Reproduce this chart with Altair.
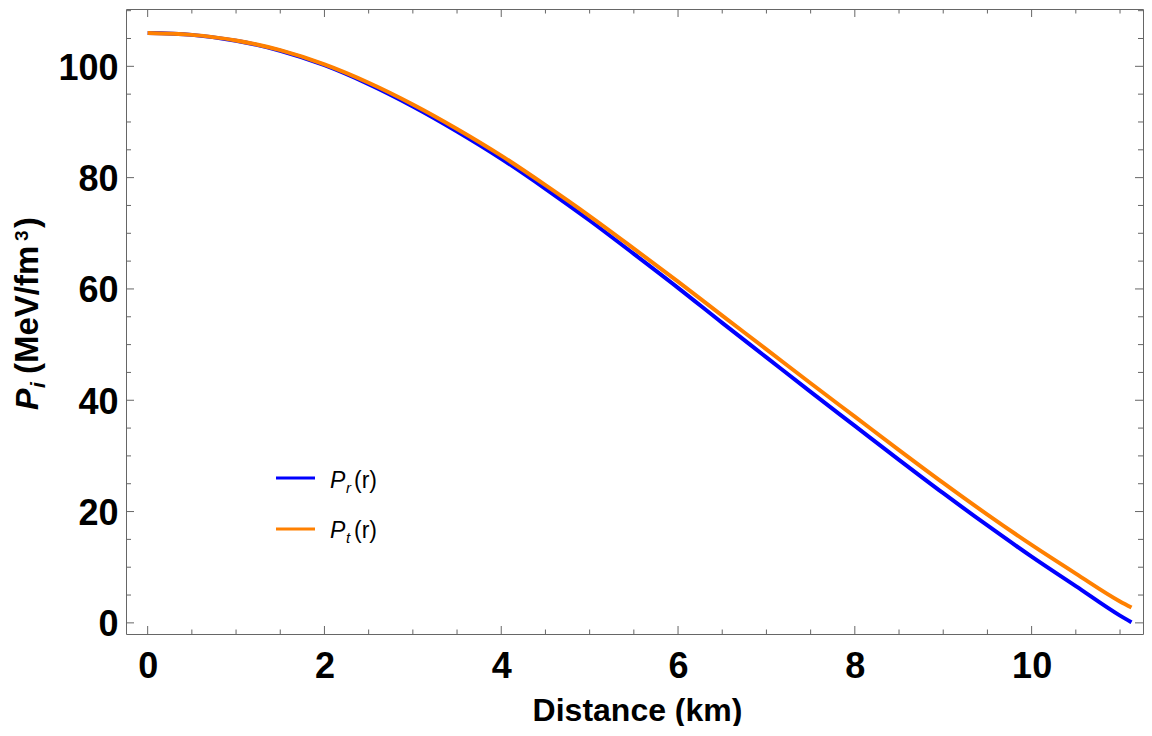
import altair as alt
import pandas as pd

# ---- data ----
r_km = [0, 0.5, 1, 1.5, 2, 2.5, 3, 3.5, 4, 4.5, 5, 5.5, 6, 6.5, 7, 7.5, 8, 8.5, 9, 9.5, 10, 10.5, 11, 11.13]
p_radial = [106.0, 105.65, 104.6, 102.8, 100.2, 96.8, 92.8, 88.3, 83.4, 78.0, 72.3, 66.3, 60.2, 53.9,
            47.7, 41.5, 35.4, 29.3, 23.3, 17.5, 11.9, 6.6, 1.3, 0.1]
p_tangential = [106.0, 105.65, 104.65, 102.9, 100.35, 97.05, 93.15, 88.75, 83.95, 78.65, 73.1, 67.25,
                61.3, 55.2, 49.15, 43.05, 37.05, 31.05, 25.15, 19.45, 14.0, 8.85, 3.85, 2.75]

x_major = [0, 2, 4, 6, 8, 10]
x_minor = [0.5, 1, 1.5, 2.5, 3, 3.5, 4.5, 5, 5.5, 6.5, 7, 7.5, 8.5, 9, 9.5, 10.5, 11]
y_major = [0, 20, 40, 60, 80, 100]
y_minor = [5, 10, 15, 25, 30, 35, 45, 50, 55, 65, 70, 75, 85, 90, 95, 105, 110]

legend_subs = ["r", "t"]
legend_colors = ["#0000FF", "#FF8000"]

FONT = "Liberation Sans"
GRAY = "#666666"
W, H = 1017, 625

xs = alt.Scale(domain=[-0.245, 11.26], nice=False, zero=False)
ys = alt.Scale(domain=[-2.0, 110.3], nice=False, zero=False)

df = pd.DataFrame({"r": r_km, "pr": p_radial, "pt": p_tangential})

x_axis = alt.Axis(values=x_major, format="d", ticks=False, tickSize=0, domain=False, grid=False,
                  labelFont=FONT, labelFontSize=36, labelFontWeight="bold", labelColor="black",
                  labelPadding=15, labelFlush=False, labelOverlap=False,
                  title="Distance (km)", titleFont=FONT, titleFontSize=32, titleFontWeight="bold",
                  titleColor="black", titleX=511, titleY=86, titleBaseline="alphabetic")
y_axis = alt.Axis(values=y_major, format="d", ticks=False, tickSize=0, domain=False, grid=False,
                  labelFont=FONT, labelFontSize=36, labelFontWeight="bold", labelColor="black",
                  labelPadding=8, labelOffset=2, labelFlush=False, labelOverlap=False, title=None)

line_r = alt.Chart(df).mark_line(color=legend_colors[0], strokeWidth=4, interpolate="monotone").encode(
    x=alt.X("r:Q", scale=xs, axis=x_axis), y=alt.Y("pr:Q", scale=ys, axis=y_axis))
line_t = alt.Chart(df).mark_line(color=legend_colors[1], strokeWidth=4, interpolate="monotone").encode(
    x=alt.X("r:Q", scale=xs, axis=x_axis), y=alt.Y("pt:Q", scale=ys, axis=y_axis))

def xticks(vals, length):
    d = pd.DataFrame({"v": vals})
    bot = alt.Chart(d).mark_rule(color=GRAY, strokeWidth=1).encode(
        x=alt.X("v:Q", scale=xs, axis=x_axis), y=alt.value(H), y2=alt.value(H - length))
    top = alt.Chart(d).mark_rule(color=GRAY, strokeWidth=1).encode(
        x=alt.X("v:Q", scale=xs, axis=x_axis), y=alt.value(0), y2=alt.value(length))
    return [bot, top]

def yticks(vals, length):
    d = pd.DataFrame({"v": vals})
    left = alt.Chart(d).mark_rule(color=GRAY, strokeWidth=1).encode(
        y=alt.Y("v:Q", scale=ys, axis=y_axis), x=alt.value(0), x2=alt.value(length))
    right = alt.Chart(d).mark_rule(color=GRAY, strokeWidth=1).encode(
        y=alt.Y("v:Q", scale=ys, axis=y_axis), x=alt.value(W), x2=alt.value(W - length))
    return [left, right]

ticks = xticks(x_major, 8) + xticks(x_minor, 4.5) + yticks(y_major, 8) + yticks(y_minor, 5)

def txt(s, x, y, size, italic=False, bold=False, angle=0):
    kw = dict(font=FONT, fontSize=size, color="black", align="left", baseline="alphabetic")
    if italic:
        kw["fontStyle"] = "italic"
    if bold:
        kw["fontWeight"] = "bold"
    if angle:
        kw["angle"] = angle
    return alt.Chart(pd.DataFrame({"t": [s]})).mark_text(**kw).encode(
        x=alt.value(x), y=alt.value(y), text="t:N")

# y-axis title  P_i (MeV/fm^3), rotated
ytitle = [
    txt("P", -88, 401, 32, italic=True, bold=True, angle=270),
    txt("i", -81, 379, 21, italic=True, bold=True, angle=270),
    txt("(MeV/fm", -88, 365, 33, bold=True, angle=270),
    txt("3", -98, 232, 19, bold=True, angle=270),
    txt(")", -88, 219, 33, bold=True, angle=270),
]

# legend
legend = []
for i, (sub, col) in enumerate(zip(legend_subs, legend_colors)):
    ly = 469 + i * 51
    ty = 479 + i * 50
    legend.append(alt.Chart(pd.DataFrame({"s": [sub]})).mark_rule(color=col, strokeWidth=3).encode(
        x=alt.value(150), x2=alt.value(189), y=alt.value(ly)))
    legend.append(txt("P", 204, ty, 23, italic=True))
    legend.append(txt(sub, 220, ty + 5, 15, italic=True))
    legend.append(txt("(r)", 228, ty, 23))

chart = alt.layer(line_r, line_t, *ticks, *ytitle, *legend).properties(
    width=W, height=H,
    padding={"left": 118, "top": 1, "right": 1, "bottom": 92},
    autosize=alt.AutoSizeParams(type="none"),
    background="white",
).configure_view(stroke=GRAY, strokeWidth=1)

chart.save("out.html", embed_options={"renderer": "svg", "actions": False})
